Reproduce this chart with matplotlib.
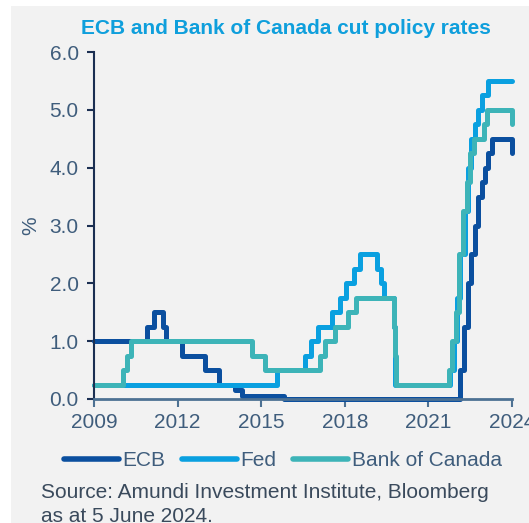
import matplotlib
matplotlib.use("Agg")
import matplotlib.pyplot as plt
from matplotlib.patches import Rectangle
import numpy as np
import datetime as dt

plt.rcParams['font.family'] = ['Liberation Sans', 'DejaVu Sans']

def dy(s):
    d = dt.date.fromisoformat(s)
    start = dt.date(d.year, 1, 1)
    end = dt.date(d.year + 1, 1, 1)
    return d.year + (d - start).days / (end - start).days

data_start = "2009-05-13"
data_end = "2024-06-07"

ecb_dates = ["2009-05-13", "2011-04-13", "2011-07-13", "2011-11-09", "2011-12-14",
             "2012-07-11", "2013-05-08", "2013-11-13", "2014-06-11", "2014-09-10",
             "2016-03-16", "2022-07-27", "2022-09-14", "2022-11-02", "2022-12-21",
             "2023-02-08", "2023-03-22", "2023-05-10", "2023-06-21", "2023-08-02",
             "2023-09-20", "2024-06-06"]
ecb_rates = [1.00, 1.25, 1.50, 1.25, 1.00, 0.75, 0.50, 0.25, 0.15, 0.05,
             0.00, 0.50, 1.25, 2.00, 2.50, 3.00, 3.50, 3.75, 4.00, 4.25, 4.50, 4.25]

fed_dates = ["2009-05-13", "2015-12-17", "2016-12-15", "2017-03-16", "2017-06-15",
             "2017-12-14", "2018-03-22", "2018-06-14", "2018-09-27", "2018-12-20",
             "2019-08-01", "2019-09-19", "2019-10-31", "2020-03-04", "2020-03-16",
             "2022-03-17", "2022-05-05", "2022-06-16", "2022-07-28", "2022-09-22",
             "2022-11-03", "2022-12-15", "2023-02-02", "2023-03-23", "2023-05-04",
             "2023-07-27"]
fed_rates = [0.25, 0.50, 0.75, 1.00, 1.25, 1.50, 1.75, 2.00, 2.25, 2.50,
             2.25, 2.00, 1.75, 1.25, 0.25, 0.50, 1.00, 1.75, 2.50, 3.25,
             4.00, 4.50, 4.75, 5.00, 5.25, 5.50]

boc_dates = ["2009-05-13", "2010-06-01", "2010-07-20", "2010-09-08", "2015-01-21",
             "2015-07-15", "2017-07-12", "2017-09-06", "2018-01-17", "2018-07-11",
             "2018-10-24", "2020-03-04", "2020-03-13", "2020-03-27", "2022-03-02",
             "2022-04-13", "2022-06-01", "2022-07-13", "2022-09-07", "2022-10-26",
             "2022-12-07", "2023-01-25", "2023-06-07", "2023-07-12", "2024-06-05"]
boc_rates = [0.25, 0.50, 0.75, 1.00, 0.75, 0.50, 0.75, 1.00, 1.25, 1.50,
             1.75, 1.25, 0.75, 0.25, 0.50, 1.00, 1.50, 2.50, 3.25, 3.75,
             4.25, 4.50, 4.75, 5.00, 4.75]

series = [("ECB", ecb_dates, ecb_rates, "#0b4f9f"),
          ("Fed", fed_dates, fed_rates, "#0aa0e0"),
          ("Bank of Canada", boc_dates, boc_rates, "#3db4b8")]

xtick_labels = ["2009", "2012", "2015", "2018", "2021", "2024"]
yticks = [0.0, 1.0, 2.0, 3.0, 4.0, 5.0, 6.0]

W, H = 529, 523
fig = plt.figure(figsize=(W / 100, H / 100), dpi=100, facecolor="white")
fig.patches.append(Rectangle((11 / W, 0), 1 - 11 / W, 1 - 6 / H,
                             transform=fig.transFigure, facecolor="#f2f2f2",
                             edgecolor="none", zorder=-10))

ax = fig.add_axes([94 / W, 1 - 399 / H, (512 - 94) / W, (399 - 52) / H])
ax.set_facecolor("none")
ax.set_zorder(5)

x0, x1 = dy(data_start), dy(data_end)
for name, dates, rates, col in series:
    xs = [dy(d) for d in dates] + [x1]
    ys = list(rates) + [rates[-1]]
    ax.step(xs, ys, where="post", color=col, lw=3.6, label=name,
            solid_joinstyle="round", solid_capstyle="round", clip_on=False)

ax.set_xlim(x0, x1)
ax.set_ylim(0, 6)
ax.set_xticks(np.linspace(x0, x1, len(xtick_labels)))
ax.set_xticklabels(xtick_labels)
ax.set_yticks(yticks)
ax.set_yticklabels([f"{v:.1f}" for v in yticks])

tc = "#3f5d7c"
ax.tick_params(axis="both", labelsize=15, labelcolor=tc)
ax.tick_params(axis="y", colors="#1b2f52", length=5, width=1.5, pad=6, labelcolor=tc)
ax.tick_params(axis="x", colors="#4d7193", length=6, width=1.5, pad=4, labelcolor=tc)
for s in ["top", "right"]:
    ax.spines[s].set_visible(False)
ax.spines["left"].set_color("#1b2f52")
ax.spines["left"].set_linewidth(1.5)
ax.spines["bottom"].set_color("#4d7193")
ax.spines["bottom"].set_linewidth(2)
ax.set_ylabel("%", fontsize=15, color=tc)
ax.yaxis.set_label_coords(-54 / (512 - 94), 0.5)

fig.text(286 / W, 1 - 28 / H, "ECB and Bank of Canada cut policy rates",
         ha="center", va="center", fontsize=15, fontweight="bold", color="#0f9fdc")

leg = fig.legend(loc="center", bbox_to_anchor=(283 / W, 1 - 461 / H), ncol=3,
                 frameon=False, fontsize=15, handlelength=2.6, handletextpad=0.2,
                 columnspacing=0.8, labelcolor=tc)
for h in leg.get_lines():
    h.set_linewidth(4)
    h.set_solid_capstyle("round")

fig.text(41 / W, 1 - 493 / H, "Source: Amundi Investment Institute, Bloomberg",
         ha="left", va="center", fontsize=15, color="#3a4a5c")
fig.text(41 / W, 1 - 516 / H, "as at 5 June 2024.",
         ha="left", va="center", fontsize=15, color="#3a4a5c")

fig.savefig("out.png", dpi=100, facecolor="white")
